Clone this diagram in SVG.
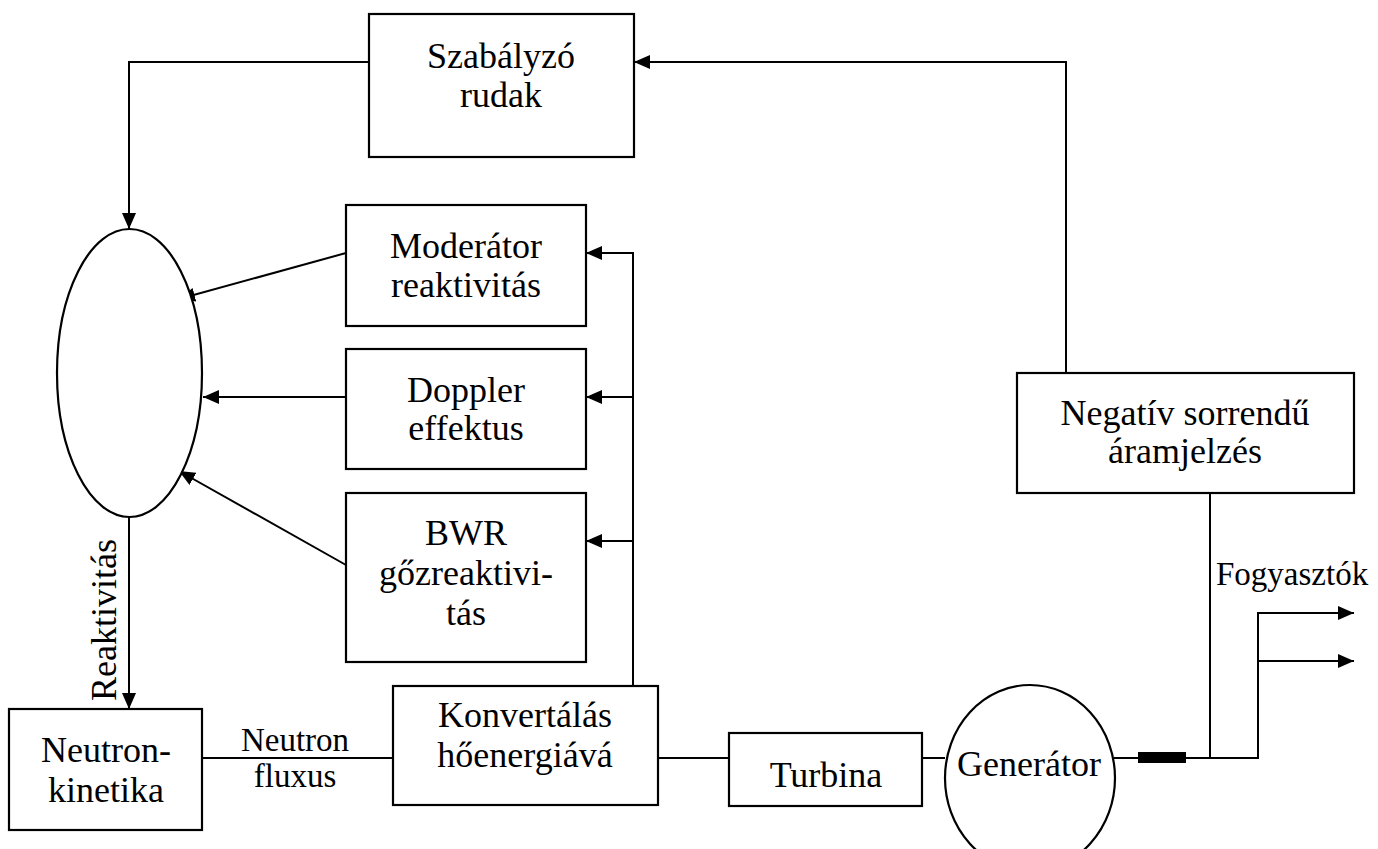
<svg xmlns="http://www.w3.org/2000/svg" width="1378" height="849" viewBox="0 0 1378 849">
<defs>
<marker id="ah" markerWidth="16" markerHeight="14" refX="16" refY="7" orient="auto" markerUnits="userSpaceOnUse"><path d="M0,0 L16,7 L0,14 z" fill="#000"/></marker>
<style>
.box{fill:#fff;stroke:#000;stroke-width:2.2}
.ln{fill:none;stroke:#000;stroke-width:2}
.arr{fill:none;stroke:#000;stroke-width:2;marker-end:url(#ah)}
.t{font-family:"Liberation Serif","DejaVu Serif",serif;font-size:36px;fill:#000;text-anchor:middle}
.s{font-family:"Liberation Serif","DejaVu Serif",serif;font-size:33px;fill:#000;text-anchor:middle}
</style>
</defs>
<rect width="1378" height="849" fill="#fff"/>
<g id="connectors">
<path class="arr" d="M369,62 H129 V229"/>
<path class="arr" d="M129,517 V709"/>
<path class="arr" d="M346,253 L179,299"/>
<path class="arr" d="M346,397 L203,397"/>
<path class="arr" d="M346,565 L179,471"/>
<path class="arr" d="M633,686 V253 H586"/>
<path class="arr" d="M633,397 H586"/>
<path class="arr" d="M633,541 H586"/>
<path class="ln" d="M202,758 H393"/>
<path class="ln" d="M658,758 H729"/>
<path class="ln" d="M922,758 H945"/>
<path class="ln" d="M1114,758 H1138"/>
<path class="arr" d="M1186,758 H1258 V613 H1354"/>
<path class="arr" d="M1258,661 H1354"/>
<path class="ln" d="M1210,493 V758"/>
<path class="arr" d="M1066,373 V62 H634"/>
<rect x="1138" y="752" width="48" height="11" fill="#000"/>
<text class="t" transform="translate(116,620) rotate(-90)">Reaktivitás</text>
<text class="s" x="295" y="751">Neutron</text>
<text class="s" x="295" y="787">fluxus</text>
<text class="s" x="1216" y="585" style="text-anchor:start">Fogyasztók</text>
</g>
<g id="szabalyzo">
<rect class="box" x="369" y="14" width="265" height="143"/>
<text class="t" x="501" y="68">Szabályzó</text>
<text class="t" x="501" y="107">rudak</text>
</g>
<g id="osszegzo">
<ellipse class="box" cx="129.5" cy="373" rx="72.5" ry="144"/>
</g>
<g id="moderator">
<rect class="box" x="346" y="205" width="240" height="121"/>
<text class="t" x="466" y="258">Moderátor</text>
<text class="t" x="466" y="297">reaktivitás</text>
</g>
<g id="doppler">
<rect class="box" x="346" y="349" width="240" height="120"/>
<text class="t" x="466" y="402">Doppler</text>
<text class="t" x="466" y="440">effektus</text>
</g>
<g id="bwr">
<rect class="box" x="346" y="493" width="240" height="169"/>
<text class="t" x="466" y="545">BWR</text>
<text class="t" x="466" y="585">gőzreaktivi-</text>
<text class="t" x="466" y="625">tás</text>
</g>
<g id="neutronkinetika">
<rect class="box" x="9" y="709" width="193" height="121"/>
<text class="t" x="106" y="762">Neutron-</text>
<text class="t" x="106" y="802">kinetika</text>
</g>
<g id="konvertalas">
<rect class="box" x="393" y="686" width="265" height="119"/>
<text class="t" x="525" y="727">Konvertálás</text>
<text class="t" x="525" y="767">hőenergiává</text>
</g>
<g id="turbina">
<rect class="box" x="729" y="733" width="193" height="73"/>
<text class="t" x="826" y="787">Turbina</text>
</g>
<g id="generator">
<ellipse class="box" cx="1030" cy="778" rx="85" ry="93"/>
<text class="t" x="1029" y="776">Generátor</text>
</g>
<g id="negativ">
<rect class="box" x="1017" y="373" width="337" height="120"/>
<text class="t" x="1185" y="425">Negatív sorrendű</text>
<text class="t" x="1185" y="463">áramjelzés</text>
</g>
</svg>
